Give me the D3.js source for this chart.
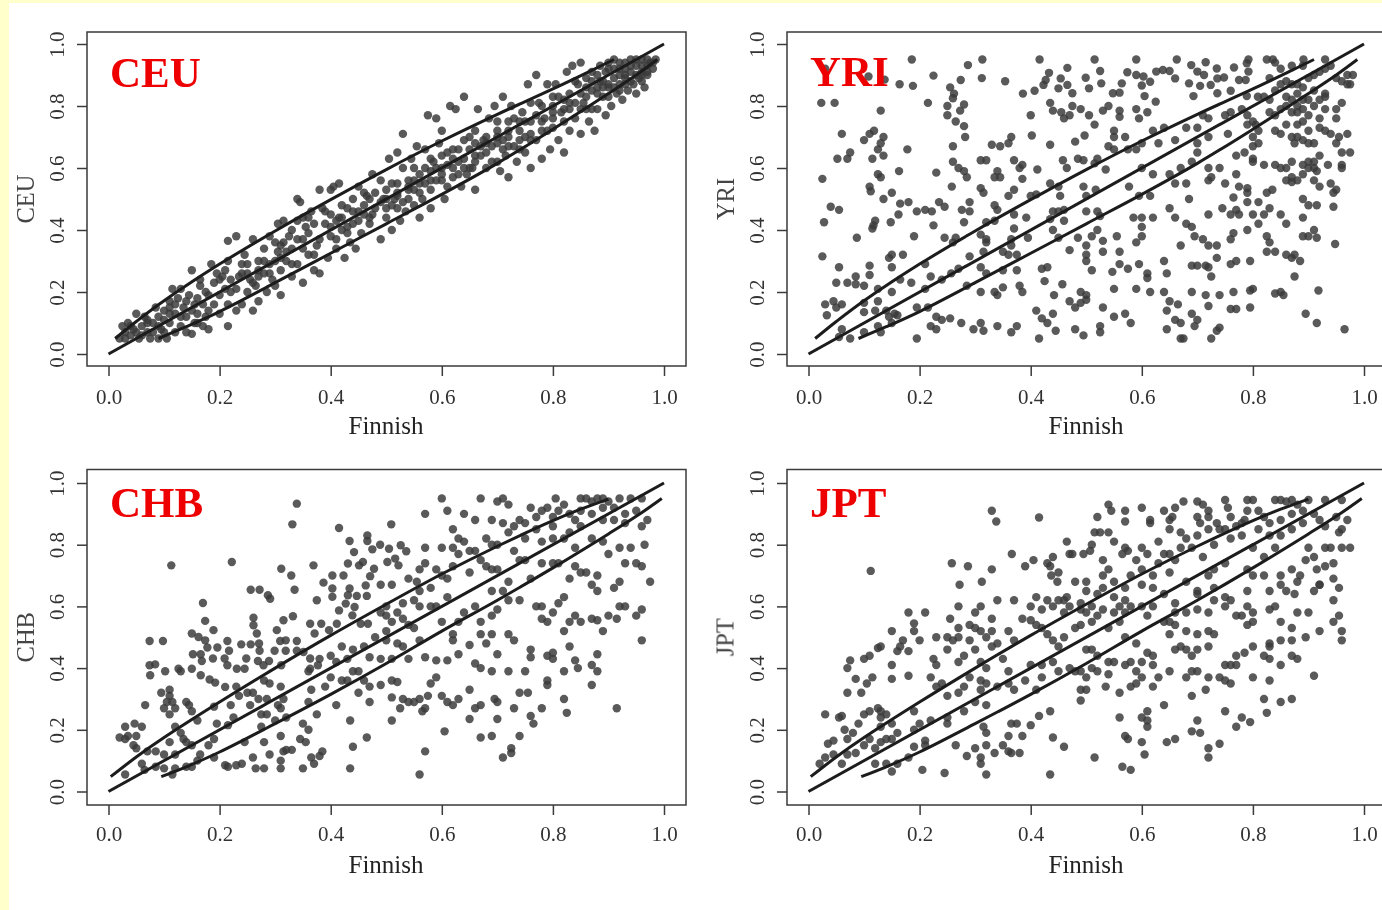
<!DOCTYPE html>
<html lang="en">
<head>
<meta charset="UTF-8">
<title>Finnish vs CEU, YRI, CHB, JPT</title>
<style>
  html,body{margin:0;padding:0;background:#fff;overflow:hidden}
  svg{display:block}
  text{font-family:"Liberation Serif","Times New Roman",serif}
</style>
</head>
<body>
<script src="https://cdn.jsdelivr.net/npm/d3@7"></script>
<script>
const xTicks = [0, 0.2, 0.4, 0.6, 0.8, 1]
const yTicks = [0, 0.2, 0.4, 0.6, 0.8, 1]
const xTitle = "Finnish"

const diagonal = [[0,0],[1,1]]
const upperTop = [[.012,.05],[.05,.105],[.1,.172],[.2,.29],[.3,.397],[.4,.498],[.5,.595],[.6,.687],[.7,.773],[.8,.855],[.87,.915],[.91,.95]]
const lowerTop = [[.09,.05],[.14,.088],[.2,.137],[.3,.23],[.4,.325],[.5,.42],[.6,.515],[.7,.615],[.8,.725],[.9,.84],[.95,.9],[.988,.95]]
const upperBottom = [[.004,.048],[.05,.112],[.1,.175],[.2,.29],[.3,.4],[.4,.506],[.5,.607],[.6,.705],[.7,.795],[.8,.878],[.85,.915],[.9,.948]]
const lowerBottom = [[.095,.048],[.14,.08],[.2,.128],[.3,.22],[.4,.315],[.5,.415],[.6,.52],[.7,.62],[.8,.725],[.9,.835],[.95,.892],[.996,.95]]

const ceuPoints = [[.02,.05],[.025,.09],[.03,.07],[.035,.1],[.04,.06],[.045,.08],[.05,.13],[.055,.05],[.06,.09],[.065,.12],[.07,.07],[.075,.05],[.08,.1],[.085,.15],[.09,.05],[.09,.12],[.095,.08],[.1,.14],[.105,.05],[.11,.1],[.11,.17],[.115,.21],[.12,.13],[.12,.07],[.125,.18],[.13,.09],[.13,.21],[.135,.15],[.14,.07],[.14,.12],[.145,.19],[.15,.27],[.15,.065],[.155,.1],[.155,.16],[.16,.13],[.165,.22],[.165,.24],[.17,.09],[.175,.12],[.175,.2],[.18,.08],[.185,.29],[.19,.16],[.195,.26],[.2,.13],[.2,.24],[.205,.25],[.215,.09],[.215,.365],[.23,.38],[.215,.3],[.215,.16],[.22,.2],[.23,.14],[.235,.25],[.24,.16],[.245,.32],[.25,.2],[.25,.29],[.255,.24],[.26,.14],[.265,.22],[.26,.37],[.27,.3],[.27,.17],[.28,.26],[.28,.34],[.285,.2],[.29,.38],[.29,.29],[.295,.24],[.3,.22],[.305,.33],[.305,.42],[.31,.27],[.31,.19],[.315,.36],[.315,.43],[.32,.3],[.325,.38],[.33,.25],[.33,.34],[.34,.5],[.345,.49],[.34,.29],[.34,.43],[.35,.23],[.35,.37],[.355,.41],[.36,.32],[.365,.46],[.37,.27],[.375,.35],[.38,.53],[.38,.26],[.385,.47],[.39,.42],[.395,.31],[.4,.38],[.4,.45],[.4,.53],[.405,.54],[.41,.34],[.415,.44],[.415,.55],[.42,.4],[.425,.31],[.43,.47],[.435,.36],[.44,.5],[.44,.42],[.445,.34],[.45,.54],[.45,.46],[.455,.39],[.46,.48],[.465,.51],[.47,.42],[.475,.58],[.475,.45],[.49,.37],[.49,.56],[.495,.5],[.5,.44],[.5,.47],[.505,.63],[.51,.4],[.51,.55],[.515,.5],[.52,.65],[.525,.43],[.53,.71],[.53,.6],[.535,.46],[.54,.56],[.545,.63],[.55,.48],[.55,.53],[.555,.67],[.56,.44],[.56,.58],[.565,.5],[.57,.66],[.575,.77],[.58,.53],[.58,.47],[.585,.62],[.59,.76],[.59,.56],[.595,.68],[.6,.72],[.6,.6],[.605,.5],[.61,.54],[.61,.65],[.615,.8],[.62,.57],[.625,.79],[.63,.62],[.635,.54],[.64,.83],[.64,.69],[.645,.58],[.65,.66],[.655,.6],[.66,.53],[.66,.72],[.665,.79],[.67,.64],[.675,.69],[.68,.6],[.685,.76],[.69,.67],[.695,.8],[.7,.62],[.7,.72],[.705,.59],[.71,.83],[.71,.69],[.715,.64],[.72,.75],[.72,.57],[.725,.8],[.73,.67],[.735,.62],[.74,.72],[.745,.78],[.75,.65],[.755,.87],[.76,.75],[.76,.6],[.77,.9],[.77,.69],[.775,.81],[.78,.63],[.785,.76],[.79,.87],[.795,.66],[.8,.73],[.8,.83],[.805,.87],[.81,.69],[.815,.78],[.82,.65],[.825,.91],[.83,.72],[.83,.84],[.835,.93],[.84,.76],[.845,.87],[.85,.71],[.85,.94],[.855,.81],[.86,.89],[.865,.75],[.87,.85],[.87,.91],[.875,.72],[.88,.79],[.885,.88],[.885,.93],[.89,.83],[.895,.77],[.895,.91],[.9,.94],[.9,.86],[.905,.8],[.91,.89],[.91,.95],[.915,.84],[.92,.92],[.92,.87],[.925,.82],[.93,.94],[.93,.89],[.935,.85],[.94,.91],[.94,.95],[.945,.87],[.95,.93],[.95,.84],[.955,.89],[.96,.95],[.96,.91],[.965,.86],[.97,.93],[.97,.9],[.975,.94],[.98,.92],[.985,.95],[.55,.6],[.52,.55],[.48,.52],[.42,.48],[.36,.39],[.3,.3],[.24,.26],[.18,.19],[.6,.64],[.65,.6],[.7,.68],[.75,.7],[.8,.78],[.85,.84],[.72,.67],[.68,.65],[.62,.6],[.58,.59],[.54,.5],[.47,.44],[.43,.41],[.37,.32],[.33,.29],[.27,.27],[.21,.21],[.16,.18],[.11,.13],[.07,.1],[.78,.72],[.83,.79],[.88,.84],[.9,.87],[.93,.9],[.96,.93],[.92,.9],[.89,.86],[.86,.86],[.82,.82],[.76,.81],[.74,.66],[.66,.68],[.63,.66],[.57,.55],[.52,.47],[.46,.52],[.41,.37],[.35,.44],[.31,.31],
[.03,.05],[.04,.09],[.05,.07],[.06,.06],[.07,.11],[.08,.07],[.09,.09],[.1,.11],[.1,.07],[.11,.15],[.12,.16],[.13,.12],[.14,.17],[.15,.14],[.16,.1],[.17,.16],[.18,.14],[.19,.23],[.2,.19],[.21,.27],[.22,.24],[.23,.21],[.24,.29],[.25,.26],[.26,.23],[.27,.25],[.28,.3],[.29,.26],[.3,.36],[.31,.35],[.32,.33],[.33,.4],[.34,.37],[.35,.34],[.36,.44],[.37,.42],[.38,.37],[.39,.46],[.4,.41],[.41,.43],[.42,.44],[.43,.39],[.44,.46],[.45,.43],[.46,.45],[.47,.5],[.48,.47],[.49,.49],[.5,.53],[.51,.48],[.52,.52],[.53,.49],[.54,.53],[.55,.56],[.56,.52],[.57,.6],[.58,.63],[.59,.6],[.6,.56],[.61,.61],[.62,.66],[.63,.58],[.64,.63],[.65,.7],[.66,.64],[.67,.67],[.68,.7],[.69,.62],[.7,.75],[.71,.66],[.72,.72],[.73,.76],[.74,.69],[.75,.75],[.76,.71],[.77,.77],[.78,.8],[.79,.72],[.8,.76],[.81,.83],[.82,.75],[.83,.81],[.84,.88],[.85,.79],[.86,.83],[.87,.79],[.88,.86],[.89,.88],[.9,.83],[.91,.86],[.92,.85],[.93,.87],[.94,.88],[.95,.9],[.96,.88],[.97,.91],[.98,.94],[.9,.92],[.91,.92],[.92,.94],[.93,.92],[.94,.93],[.95,.95],[.96,.9],[.97,.95],[.88,.9],[.87,.88],[.86,.79],[.84,.81],[.82,.79],[.8,.8],[.78,.75],[.76,.69],[.74,.75],[.72,.7],[.7,.7],[.68,.68],[.66,.62],[.64,.6],[.62,.63],[.6,.58],[.58,.56],[.56,.55],[.54,.54],[.52,.51],[.5,.5]]

const yriPoints = [[.186,.95],[.313,.95],[.416,.95],[.515,.95],[.59,.95],[.663,.95],[.792,.95],[.825,.95],[.836,.95],[.891,.95],[.93,.95],[.03,.92],[.108,.895],[.137,.885],[.164,.87],[.188,.865],[.225,.898],[.287,.932],[.274,.884],[.312,.89],[.354,.88],[.466,.923],[.433,.907],[.454,.889],[.427,.884],[.423,.868],[.45,.857],[.466,.868],[.475,.841],[.407,.849],[.386,.84],[.499,.891],[.505,.857],[.525,.913],[.527,.873],[.548,.841],[.56,.843],[.564,.873],[.574,.909],[.59,.9],[.603,.895],[.6,.866],[.615,.878],[.605,.832],[.625,.814],[.626,.911],[.638,.916],[.65,.913],[.66,.889],[.685,.873],[.693,.832],[.689,.932],[.7,.911],[.715,.941],[.712,.9],[.705,.865],[.724,.868],[.735,.921],[.736,.889],[.748,.892],[.736,.841],[.76,.849],[.766,.924],[.775,.884],[.789,.938],[.792,.911],[.787,.884],[.789,.832],[.809,.83],[.023,.81],[.047,.81],[.215,.81],[.25,.8],[.255,.86],[.262,.84],[.26,.825],[.28,.805],[.273,.785],[.13,.785],[.25,.77],[.265,.75],[.28,.735],[.282,.7],[.4,.77],[.435,.81],[.44,.785],[.455,.78],[.47,.77],[.46,.76],[.475,.8],[.49,.79],[.505,.77],[.515,.74],[.53,.785],[.54,.8],[.56,.785],[.56,.765],[.59,.79],[.595,.76],[.61,.78],[.06,.71],[.1,.69],[.11,.71],[.118,.72],[.135,.7],[.13,.68],[.125,.66],[.135,.64],[.115,.63],[.052,.63],[.07,.63],[.075,.65],[.178,.66],[.26,.67],[.33,.675],[.345,.67],[.36,.68],[.365,.7],[.402,.705],[.435,.675],[.48,.685],[.497,.705],[.54,.67],[.55,.66],[.575,.66],[.59,.66],[.025,.565],[.125,.58],[.13,.57],[.163,.59],[.23,.585],[.26,.62],[.27,.6],[.28,.59],[.285,.57],[.31,.625],[.32,.625],[.34,.59],[.335,.57],[.345,.57],[.37,.625],[.385,.61],[.38,.6],[.385,.565],[.412,.595],[.458,.625],[.465,.6],[.485,.63],[.495,.625],[.52,.63],[.515,.615],[.535,.595],[.11,.54],[.112,.525],[.15,.52],[.135,.5],[.258,.54],[.31,.535],[.315,.52],[.37,.53],[.36,.51],[.4,.51],[.41,.515],[.435,.55],[.45,.54],[.453,.51],[.495,.54],[.5,.51],[.517,.53],[.577,.54],[.595,.51],[.615,.51],[.04,.475],[.055,.465],[.165,.485],[.18,.49],[.195,.46],[.21,.465],[.222,.46],[.235,.49],[.245,.475],[.276,.465],[.29,.49],[.29,.46],[.335,.48],[.34,.465],[.37,.45],[.392,.44],[.44,.46],[.45,.46],[.46,.465],[.5,.46],[.52,.46],[.525,.445],[.028,.425],[.12,.43],[.117,.415],[.115,.405],[.148,.425],[.162,.45],[.225,.415],[.28,.425],[.32,.425],[.335,.43],[.37,.405],[.435,.435],[.44,.4],[.46,.43],[.087,.375],[.19,.38],[.245,.375],[.26,.36],[.265,.375],[.31,.385],[.32,.37],[.32,.36],[.365,.37],[.395,.375],[.45,.375],[.485,.375],[.51,.38],[.52,.4],[.53,.365],[.555,.38],[.025,.315],[.15,.32],[.17,.32],[.145,.31],[.29,.315],[.315,.33],[.35,.33],[.365,.35],[.36,.32],[.375,.32],[.47,.335],[.5,.35],[.5,.32],[.53,.33],[.56,.33],[.055,.28],[.11,.285],[.15,.28],[.21,.29],[.257,.26],[.27,.275],[.31,.28],[.32,.26],[.35,.27],[.375,.27],[.42,.275],[.43,.28],[.5,.3],[.51,.27],[.547,.265],[.56,.29],[.575,.275],[.595,.29],[.61,.26],[.11,.255],[.085,.25],[.085,.225],[.05,.23],[.07,.23],[.1,.22],[.125,.21],[.15,.2],[.185,.23],[.165,.24],[.22,.25],[.24,.24],[.285,.22],[.31,.2],[.335,.2],[.35,.215],[.38,.22],[.385,.2],[.425,.235],[.457,.225],[.49,.2],[.5,.19],[.55,.21],[.59,.21],[.615,.2],[.61,.245],[.03,.16],[.045,.17],[.05,.15],[.06,.16],[.1,.165],[.125,.17],[.1,.135],[.12,.14],[.033,.125],[.145,.12],[.14,.14],[.16,.125],[.195,.15],[.21,.21],[.215,.15],[.34,.19],[.442,.19],[.48,.15],[.49,.165],[.5,.175],[.47,.17],[.53,.15],[.55,.12],[.57,.13],[.06,.08],[.055,.055],[.075,.05],[.1,.07],[.125,.09],[.13,.07],[.15,.1],[.155,.13],[.195,.05],[.22,.09],[.23,.12],[.23,.08],[.24,.11],[.255,.115],[.275,.1],[.297,.08],[.31,.1],[.315,.075],[.34,.09],[.365,.07],[.375,.09],[.41,.14],[.42,.115],[.43,.1],[.44,.13],[.445,.075],[.415,.05],[.48,.08],[.495,.06],[.525,.09],[.525,.07],[.58,.1],[.64,.2],[.645,.14],[.65,.17],[.66,.11],[.665,.16],[.645,.08],[.67,.1],[.67,.05],[.675,.05],[.69,.13],[.695,.09],[.7,.11],[.69,.2],[.715,.19],[.72,.155],[.74,.19],[.765,.2],[.76,.145],[.77,.145],[.795,.15],[.795,.205],[.8,.21],[.725,.05],[.735,.075],[.74,.085],[.84,.195],[.85,.2],[.855,.19],[.895,.13],[.915,.1],[.965,.08],[.918,.205],[.64,.3],[.645,.26],[.69,.285],[.7,.285],[.715,.285],[.72,.28],[.725,.25],[.735,.31],[.76,.29],[.77,.3],[.795,.3],[.825,.33],[.84,.33],[.86,.32],[.87,.31],[.875,.25],[.875,.32],[.885,.3],[.67,.35],[.695,.38],[.71,.37],[.72,.35],[.735,.35],[.76,.37],[.765,.39],[.79,.4],[.81,.42],[.825,.38],[.83,.36],[.86,.42],[.89,.38],[.9,.38],[.91,.4],[.915,.375],[.948,.355],[.89,.44],[.6,.41],[.6,.38],[.59,.36],[.585,.44],[.6,.44],[.62,.44],[.65,.47],[.66,.44],[.68,.42],[.69,.41],[.72,.45],[.745,.47],[.76,.45],[.77,.465],[.775,.45],[.8,.45],[.82,.45],[.83,.47],[.85,.45],[.89,.5],[.9,.48],[.915,.48],[.945,.475],[.685,.5],[.75,.55],[.765,.505],[.775,.54],[.79,.52],[.79,.535],[.79,.49],[.81,.49],[.825,.52],[.835,.53],[.87,.555],[.88,.56],[.89,.58],[.92,.54],[.94,.55],[.945,.52],[.95,.53],[.86,.56],[.87,.57],[.89,.61],[.91,.56],[.6,.6],[.62,.58],[.66,.55],[.68,.55],[.65,.58],[.67,.6],[.69,.62],[.7,.65],[.72,.6],[.725,.57],[.72,.56],[.74,.6],[.77,.58],[.77,.64],[.785,.65],[.8,.63],[.8,.62],[.82,.61],[.84,.61],[.85,.6],[.86,.6],[.87,.62],[.9,.6],[.91,.62],[.915,.59],[.935,.61],[.96,.61],[.96,.6],[.975,.65],[.96,.65],[.95,.68],[.97,.71],[.955,.7],[.93,.72],[.94,.71],[.92,.73],[.9,.68],[.91,.68],[.9,.62],[.88,.7],[.875,.68],[.87,.7],[.85,.71],[.84,.72],[.81,.72],[.805,.74],[.8,.67],[.81,.68],[.79,.74],[.8,.75],[.79,.77],[.8,.7],[.755,.71],[.7,.73],[.7,.68],[.72,.7],[.68,.73],[.66,.69],[.64,.73],[.62,.72],[.63,.68],[.6,.68],[.57,.7],[.55,.7],[.55,.72],[.75,.77],[.76,.78],[.78,.79],[.72,.76],[.71,.77],[.83,.78],[.84,.77],[.85,.79],[.86,.8],[.87,.78],[.88,.78],[.9,.77],[.89,.75],[.91,.8],[.92,.76],[.93,.79],[.95,.79],[.96,.81],[.95,.76],[.82,.83],[.83,.89],[.84,.94],[.85,.92],[.86,.88],[.87,.93],[.88,.87],[.89,.93],[.9,.89],[.91,.85],[.92,.91],[.93,.84],[.94,.93],[.95,.89],[.96,.88],[.97,.87],[.975,.87],[.98,.9],[.97,.9],[.88,.84],[.89,.82],[.84,.85],[.86,.83],[.87,.82],[.88,.8],[.89,.79],[.9,.82],[.92,.82],[.93,.83],[.83,.82],[.85,.87],[.87,.87],[.89,.86],[.91,.9],[.93,.92],[.88,.74],[.86,.74],[.89,.69],[.9,.72],[.92,.64],[.91,.6]]

const chbPoints = [[.339,.933],[.331,.866],[.222,.744],[.113,.733],[.311,.722],[.329,.7],[.369,.733],[.415,.854],[.434,.812],[.466,.83],[.466,.812],[.475,.785],[.442,.776],[.489,.8],[.505,.787],[.509,.866],[.526,.798],[.536,.779],[.516,.755],[.502,.744],[.522,.733],[.478,.722],[.451,.733],[.431,.739],[.458,.744],[.471,.698],[.423,.7],[.403,.7],[.387,.677],[.403,.658],[.256,.654],[.272,.654],[.287,.636],[.291,.625],[.335,.654],[.375,.62],[.403,.631],[.431,.636],[.434,.658],[.463,.668],[.447,.634],[.465,.634],[.427,.609],[.415,.587],[.443,.598],[.439,.571],[.17,.611],[.174,.553],[.189,.523],[.15,.512],[.162,.501],[.261,.563],[.261,.539],[.267,.512],[.315,.555],[.332,.568],[.303,.523],[.363,.544],[.383,.544],[.371,.512],[.397,.523],[.411,.544],[.467,.544],[.454,.544],[.074,.488],[.098,.488],[.074,.409],[.084,.412],[.075,.377],[.102,.39],[.126,.398],[.13,.39],[.15,.398],[.166,.377],[.182,.363],[.192,.353],[.21,.339],[.174,.49],[.178,.467],[.196,.467],[.214,.488],[.217,.456],[.239,.477],[.256,.477],[.271,.48],[.272,.456],[.152,.445],[.166,.445],[.168,.423],[.188,.431],[.209,.431],[.214,.409],[.231,.398],[.245,.398],[.248,.431],[.269,.423],[.289,.423],[.279,.409],[.299,.456],[.309,.488],[.319,.49],[.339,.488],[.319,.456],[.339,.456],[.311,.409],[.351,.452],[.363,.431],[.363,.398],[.377,.409],[.095,.32],[.1,.27],[.11,.31],[.11,.33],[.105,.29],[.11,.25],[.12,.27],[.115,.29],[.066,.28],[.14,.29],[.145,.28],[.15,.26],[.03,.21],[.047,.22],[.06,.21],[.02,.175],[.03,.17],[.035,.18],[.05,.18],[.045,.15],[.05,.14],[.07,.13],[.085,.13],[.1,.12],[.12,.12],[.11,.16],[.12,.21],[.13,.19],[.135,.17],[.14,.16],[.15,.15],[.16,.23],[.165,.12],[.16,.1],[.15,.08],[.14,.08],[.12,.075],[.115,.055],[.1,.075],[.085,.08],[.06,.09],[.03,.055],[.065,.07],[.19,.275],[.19,.17],[.18,.15],[.195,.22],[.215,.215],[.22,.28],[.225,.24],[.23,.34],[.235,.31],[.25,.32],[.26,.32],[.255,.28],[.27,.3],[.275,.25],[.275,.21],[.285,.3],[.285,.25],[.28,.36],[.29,.35],[.3,.23],[.31,.34],[.305,.28],[.315,.3],[.32,.24],[.31,.27],[.35,.22],[.36,.2],[.36,.29],[.365,.33],[.375,.25],[.39,.34],[.4,.37],[.41,.28],[.43,.36],[.45,.39],[.46,.36],[.45,.32],[.47,.34],[.47,.29],[.49,.345],[.51,.36],[.52,.355],[.51,.305],[.53,.3],[.525,.27],[.51,.23],[.435,.23],[.365,.11],[.38,.115],[.385,.13],[.44,.145],[.465,.175],[.435,.075],[.37,.09],[.35,.075],[.31,.1],[.315,.13],[.32,.135],[.33,.135],[.345,.17],[.355,.16],[.31,.18],[.28,.16],[.29,.12],[.26,.11],[.265,.075],[.28,.075],[.31,.075],[.24,.09],[.23,.085],[.21,.085],[.215,.08],[.245,.16],[.19,.11],[.56,.055],[.57,.13],[.565,.26],[.55,.29],[.54,.29],[.57,.27],[.56,.3],[.575,.31],[.58,.35],[.59,.37],[.6,.31],[.61,.29],[.62,.28],[.63,.3],[.65,.33],[.605,.195],[.65,.235],[.66,.27],[.67,.28],[.67,.175],[.69,.18],[.71,.11],[.725,.125],[.725,.14],[.7,.235],[.695,.3],[.7,.29],[.73,.27],[.74,.32],[.755,.32],[.74,.18],[.765,.22],[.76,.245],[.78,.27],[.82,.3],[.825,.255],[.915,.27],[.69,.39],[.72,.39],[.75,.39],[.66,.415],[.67,.4],[.7,.445],[.76,.46],[.76,.435],[.79,.44],[.8,.45],[.8,.43],[.79,.36],[.79,.345],[.82,.39],[.83,.47],[.84,.425],[.845,.4],[.87,.41],[.88,.39],[.87,.345],[.88,.445],[.96,.49],[.73,.49],[.72,.51],[.69,.51],[.67,.51],[.68,.48],[.65,.475],[.62,.49],[.63,.445],[.61,.425],[.59,.425],[.57,.435],[.56,.49],[.54,.43],[.53,.47],[.52,.48],[.5,.49],[.51,.43],[.49,.43],[.47,.435],[.46,.47],[.44,.46],[.42,.47],[.43,.43],[.41,.42],[.42,.36],[.44,.39],[.4,.44],[.38,.43],[.36,.39],[.6,.55],[.62,.51],[.63,.55],[.64,.58],[.66,.6],[.67,.55],[.69,.57],[.7,.59],[.72,.62],[.74,.62],[.77,.6],[.78,.6],[.78,.56],[.79,.55],[.8,.58],[.81,.61],[.82,.52],[.83,.55],[.84,.57],[.85,.55],[.87,.56],[.88,.555],[.89,.52],[.9,.57],[.915,.56],[.92,.6],[.93,.6],[.96,.59],[.95,.57],[.975,.68],[.92,.68],[.91,.66],[.88,.65],[.88,.7],[.87,.67],[.85,.71],[.83,.69],[.82,.63],[.8,.74],[.78,.74],[.76,.69],[.74,.75],[.72,.68],[.71,.65],[.69,.65],[.7,.72],[.68,.73],[.65,.71],[.62,.73],[.6,.7],[.59,.72],[.57,.74],[.56,.72],[.555,.68],[.54,.69],[.53,.61],[.52,.58],[.5,.57],[.49,.58],[.48,.5],[.5,.52],[.51,.67],[.49,.67],[.53,.56],[.54,.54],[.55,.53],[.56,.6],[.58,.6],[.59,.6],[.61,.63],[.62,.79],[.6,.79],[.57,.79],[.57,.9],[.61,.91],[.6,.95],[.64,.9],[.66,.88],[.67,.95],[.69,.88],[.7,.94],[.71,.95],[.72,.93],[.73,.86],[.74,.88],[.76,.92],[.78,.91],[.8,.89],[.805,.95],[.82,.93],[.84,.88],[.85,.95],[.86,.95],[.88,.95],[.89,.95],[.9,.94],[.92,.95],[.94,.95],[.96,.95],[.97,.88],[.96,.86],[.93,.9],[.91,.88],[.89,.92],[.87,.9],[.85,.86],[.83,.84],[.82,.82],[.84,.79],[.87,.82],[.89,.81],[.9,.77],[.92,.79],[.94,.79],[.95,.74],[.96,.73],[.93,.74],[.965,.8],[.78,.81],[.77,.85],[.75,.82],[.72,.84],[.7,.8],[.68,.82],[.66,.78],[.64,.81],[.62,.85],[.63,.82],[.69,.72],[.73,.78],[.75,.75],[.8,.82],[.81,.74],[.84,.73],[.86,.71],[.8,.86],[.81,.91],[.83,.9],[.85,.91],[.87,.94],[.89,.88],[.91,.92],[.93,.87],[.95,.91],[.79,.92],[.77,.89],[.75,.87],[.71,.87],[.69,.8],[.67,.75],[.65,.78],[.63,.77],[.61,.69],[.58,.66],[.56,.65],[.55,.62],[.5,.6],[.51,.55]]

const jptPoints = [[.33,.91],[.338,.875],[.415,.888],[.112,.715],[.258,.74],[.287,.73],[.33,.72],[.272,.67],[.312,.68],[.366,.77],[.39,.73],[.405,.75],[.43,.74],[.435,.73],[.44,.76],[.437,.7],[.45,.71],[.448,.68],[.48,.68],[.5,.68],[.5,.65],[.465,.81],[.47,.77],[.475,.77],[.495,.77],[.507,.78],[.51,.8],[.515,.84],[.525,.84],[.52,.89],[.54,.93],[.545,.91],[.54,.84],[.55,.81],[.57,.79],[.575,.78],[.565,.77],[.57,.91],[.57,.875],[.6,.92],[.615,.88],[.615,.87],[.64,.91],[.65,.88],[.655,.89],[.66,.92],[.65,.85],[.67,.84],[.675,.94],[.7,.94],[.71,.93],[.72,.91],[.7,.89],[.705,.87],[.72,.89],[.735,.87],[.75,.85],[.77,.86],[.75,.945],[.755,.92],[.79,.945],[.8,.945],[.79,.91],[.785,.88],[.81,.91],[.82,.89],[.84,.945],[.85,.945],[.86,.94],[.87,.945],[.88,.93],[.9,.945],[.93,.945],[.96,.945],[.83,.87],[.85,.88],[.87,.9],[.89,.91],[.92,.88],[.95,.89],[.97,.88],[.96,.85],[.955,.84],[.93,.79],[.96,.79],[.975,.79],[.9,.79],[.91,.76],[.895,.75],[.915,.72],[.93,.73],[.945,.74],[.945,.69],[.955,.66],[.945,.62],[.91,.65],[.92,.67],[.875,.64],[.88,.68],[.885,.7],[.87,.72],[.85,.7],[.83,.65],[.85,.67],[.86,.65],[.87,.53],[.88,.58],[.9,.58],[.955,.57],[.945,.55],[.96,.52],[.96,.49],[.92,.52],[.895,.5],[.87,.49],[.85,.49],[.83,.48],[.85,.55],[.83,.59],[.84,.6],[.8,.58],[.8,.55],[.79,.54],[.77,.57],[.79,.6],[.75,.6],[.75,.63],[.76,.62],[.79,.65],[.73,.66],[.73,.62],[.72,.58],[.7,.59],[.68,.58],[.66,.58],[.66,.61],[.64,.64],[.62,.66],[.6,.67],[.7,.65],[.68,.68],[.72,.7],[.73,.72],[.75,.74],[.79,.72],[.8,.7],[.82,.7],[.82,.76],[.84,.79],[.8,.79],[.78,.83],[.76,.82],[.73,.8],[.71,.76],[.7,.83],[.68,.82],[.67,.79],[.65,.77],[.63,.81],[.61,.77],[.6,.79],[.59,.75],[.6,.72],[.62,.7],[.65,.71],[.63,.74],[.53,.75],[.54,.72],[.53,.7],[.55,.68],[.53,.66],[.52,.64],[.55,.63],[.57,.62],[.58,.6],[.6,.6],[.62,.6],[.56,.6],[.57,.58],[.61,.57],[.64,.55],[.66,.54],[.65,.51],[.68,.52],[.7,.51],[.72,.52],[.73,.51],[.67,.47],[.66,.46],[.68,.46],[.7,.46],[.72,.47],[.75,.41],[.76,.41],[.77,.41],[.77,.44],[.785,.45],[.8,.47],[.83,.47],[.85,.41],[.87,.44],[.88,.43],[.83,.43],[.8,.37],[.83,.36],[.91,.375],[.82,.3],[.85,.29],[.87,.3],[.825,.255],[.795,.225],[.78,.24],[.77,.21],[.75,.26],[.72,.14],[.72,.11],[.74,.155],[.705,.19],[.69,.195],[.7,.23],[.66,.17],[.645,.16],[.69,.31],[.715,.33],[.72,.37],[.74,.37],[.75,.36],[.76,.35],[.69,.39],[.7,.39],[.68,.37],[.65,.39],[.64,.28],[.6,.24],[.61,.26],[.61,.23],[.61,.21],[.6,.16],[.605,.12],[.565,.08],[.58,.07],[.57,.18],[.575,.17],[.56,.24],[.535,.34],[.56,.32],[.58,.34],[.59,.35],[.63,.37],[.62,.34],[.6,.37],[.59,.39],[.57,.41],[.58,.42],[.6,.42],[.62,.41],[.61,.45],[.62,.44],[.59,.48],[.57,.5],[.54,.42],[.54,.38],[.55,.42],[.51,.4],[.52,.39],[.5,.37],[.49,.39],[.47,.4],[.48,.39],[.5,.46],[.51,.46],[.52,.44],[.49,.33],[.5,.33],[.49,.295],[.435,.26],[.415,.245],[.44,.175],[.46,.145],[.515,.11],[.435,.055],[.4,.215],[.385,.18],[.365,.22],[.36,.18],[.375,.22],[.35,.15],[.36,.13],[.365,.125],[.38,.125],[.335,.125],[.32,.15],[.3,.14],[.285,.115],[.31,.11],[.31,.09],[.32,.055],[.245,.06],[.205,.07],[.265,.15],[.315,.21],[.32,.19],[.32,.28],[.3,.29],[.28,.26],[.25,.22],[.25,.24],[.22,.23],[.2,.22],[.19,.26],[.19,.2],[.21,.15],[.21,.165],[.19,.145],[.18,.11],[.16,.09],[.15,.065],[.14,.09],[.12,.09],[.1,.15],[.12,.14],[.13,.16],[.14,.17],[.15,.17],[.16,.19],[.15,.22],[.13,.21],[.13,.24],[.125,.27],[.14,.25],[.13,.26],[.1,.25],[.11,.26],[.08,.19],[.07,.17],[.09,.22],[.065,.2],[.11,.17],[.085,.125],[.07,.12],[.06,.09],[.045,.12],[.03,.11],[.02,.09],[.035,.155],[.045,.165],[.03,.25],[.055,.24],[.06,.245],[.07,.32],[.095,.32],[.085,.365],[.105,.35],[.115,.37],[.07,.4],[.075,.425],[.1,.43],[.11,.44],[.125,.465],[.13,.47],[.15,.365],[.18,.375],[.15,.41],[.16,.455],[.17,.49],[.165,.47],[.18,.455],[.15,.52],[.19,.52],[.19,.545],[.18,.58],[.21,.58],[.2,.49],[.225,.43],[.23,.41],[.22,.37],[.23,.34],[.24,.35],[.25,.31],[.27,.32],[.28,.34],[.29,.37],[.27,.42],[.28,.44],[.29,.49],[.26,.49],[.25,.46],[.23,.5],[.25,.5],[.27,.5],[.29,.54],[.255,.56],[.27,.53],[.3,.53],[.31,.52],[.32,.5],[.33,.56],[.33,.52],[.3,.46],[.31,.42],[.32,.4],[.33,.47],[.34,.48],[.35,.43],[.27,.6],[.3,.58],[.31,.6],[.34,.62],[.37,.62],[.36,.52],[.37,.49],[.385,.56],[.4,.555],[.41,.54],[.42,.53],[.4,.6],[.41,.63],[.43,.62],[.42,.59],[.45,.62],[.44,.6],[.46,.58],[.47,.6],[.465,.63],[.49,.61],[.5,.58],[.52,.57],[.51,.55],[.48,.53],[.49,.54],[.43,.51],[.44,.49],[.46,.5],[.45,.47],[.42,.41],[.44,.42],[.45,.39],[.4,.41],[.39,.36],[.42,.37],[.41,.33],[.36,.35],[.36,.39],[.37,.33],[.31,.36],[.31,.33],[.32,.35],[.34,.34],[.65,.55],[.69,.44],[.7,.64],[.78,.57],[.82,.44],[.92,.67],[.94,.79],[.81,.85],[.83,.83],[.85,.83],[.87,.85],[.89,.87],[.91,.9],[.93,.86],[.78,.87],[.76,.89],[.74,.85],[.72,.85],[.69,.79],[.66,.75],[.64,.77],[.58,.7],[.57,.66],[.55,.58],[.56,.55],[.54,.53],[.53,.59],[.51,.6],[.49,.59],[.46,.62]]

const panels = [
  {name:"CEU", points:ceuPoints, upper:upperTop, lower:lowerTop, left:87, top:32, bottom:366, y1:44, y0:354, tickY:37.5, labelY:87},
  {name:"YRI", points:yriPoints, upper:upperTop, lower:lowerTop, left:787, top:32, bottom:366, y1:44, y0:354, tickY:37.5, labelY:86},
  {name:"CHB", points:chbPoints, upper:upperBottom, lower:lowerBottom, left:87, top:469.5, bottom:805, y1:483, y0:791.5, tickY:36, labelY:517},
  {name:"JPT", points:jptPoints, upper:upperBottom, lower:lowerBottom, left:787, top:469.5, bottom:805, y1:483, y0:791.5, tickY:36, labelY:517}
]

const svg = d3.select("body").append("svg").attr("width",1382).attr("height",910)

// pale page edge
svg.append("rect").attr("width",1382).attr("height",3).attr("fill","#ffffcc")
svg.append("rect").attr("width",9).attr("height",910).attr("fill","#ffffcc")

const blur = svg.append("defs").append("filter").attr("id","soft")
blur.append("feGaussianBlur").attr("stdDeviation",0.45)

panels.forEach(p => {
  const x = d3.scaleLinear().domain([0,1]).range([p.left+21.5, p.left+21.5+555.5])
  const y = d3.scaleLinear().domain([0,1]).range([p.y0, p.y1])
  const boxW = 599
  const g = svg.append("g").attr("filter","url(#soft)")

  g.append("g").selectAll("circle").data(p.points).enter().append("circle")
    .attr("cx",d=>x(d[0])).attr("cy",d=>y(d[1])).attr("r",4.2)
    .attr("fill","#3c3c3c").attr("fill-opacity",0.85)

  const line = d3.line().x(d=>x(d[0])).y(d=>y(d[1]))
  const curved = d3.line().x(d=>x(d[0])).y(d=>y(d[1])).curve(d3.curveCatmullRom)
  g.append("path").attr("d",line(diagonal)).attr("fill","none").attr("stroke","#1c1c1c").attr("stroke-width",3)
  g.append("path").attr("d",curved(p.upper)).attr("fill","none").attr("stroke","#1c1c1c").attr("stroke-width",3)
  g.append("path").attr("d",curved(p.lower)).attr("fill","none").attr("stroke","#1c1c1c").attr("stroke-width",3)

  g.append("rect").attr("x",p.left).attr("y",p.top).attr("width",boxW).attr("height",p.bottom-p.top)
    .attr("fill","none").attr("stroke","#3a3a3a").attr("stroke-width",1.5)

  const xAxis = g.append("g").attr("transform","translate(0,"+p.bottom+")")
    .call(d3.axisBottom(x).tickValues(xTicks).tickFormat(d3.format(".1f")).tickSize(10))
  const yAxis = g.append("g").attr("transform","translate("+p.left+",0)")
    .call(d3.axisLeft(y).tickValues(yTicks).tickFormat(d3.format(".1f")).tickSize(10))
  xAxis.select(".domain").remove()
  yAxis.select(".domain").remove()
  xAxis.selectAll("line").attr("stroke","#3a3a3a").attr("stroke-width",1.5)
  yAxis.selectAll("line").attr("stroke","#3a3a3a").attr("stroke-width",1.5)
  xAxis.selectAll("text").attr("font-size",21).attr("fill","#333")
    .attr("font-family","Liberation Serif").attr("dy",null).attr("y",p.tickY)
  yAxis.selectAll("text").attr("font-size",21).attr("fill","#333")
    .attr("font-family","Liberation Serif")
    .attr("x",null).attr("dy",null).attr("text-anchor","middle")
    .attr("transform","translate(-23.5,0) rotate(-90)")

  g.append("text").attr("x",p.left+299).attr("y",p.bottom+68).attr("text-anchor","middle")
    .attr("font-size",25).attr("fill","#222").text(xTitle)
  g.append("text").attr("text-anchor","middle").attr("font-size",24.5).attr("fill","#444")
    .attr("transform","translate("+(p.left-53.5)+","+((p.top+p.bottom)/2)+") rotate(-90)").text(p.name)

  svg.append("text").attr("x",p.left+23).attr("y",p.labelY).attr("font-size",43).attr("font-weight","bold")
    .attr("fill","#ee0000").attr("filter","url(#soft)").text(p.name)
})
</script>
</body>
</html>
